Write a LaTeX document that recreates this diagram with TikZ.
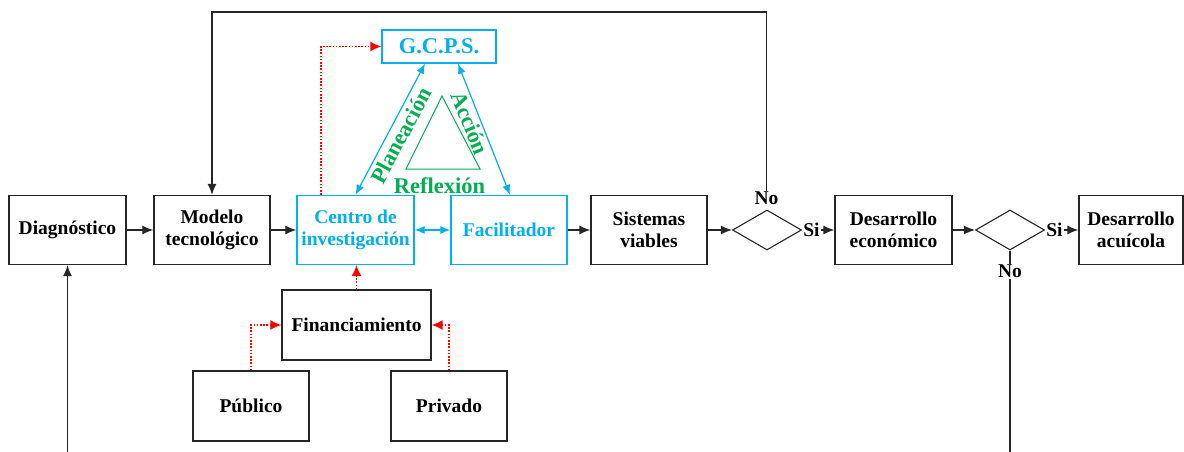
\documentclass[tikz,border=0pt]{standalone}
\usepackage{fontspec}
\setmainfont{Liberation Serif}
\usetikzlibrary{arrows.meta,shapes.geometric}
\definecolor{cyanb}{RGB}{0,176,240}
\definecolor{greenb}{RGB}{0,176,80}

\begin{document}
\begin{tikzpicture}[x=1pt,y=-1pt,
  box/.style={draw=black!85,line width=1.3pt,rectangle,inner sep=0pt,
    minimum width=117pt,minimum height=69pt,align=center,
    font=\bfseries\fontsize{19.5}{22}\selectfont},
  cbox/.style={box,draw=cyanb,text=cyanb},
  dec/.style={diamond,draw=black!85,line width=1.1pt,inner sep=0pt,
    minimum width=69pt,minimum height=40pt},
  lbl/.style={inner sep=1pt,font=\bfseries\fontsize{19.5}{22}\selectfont},
  plain/.style={line width=1.2pt,black!85},
  flow/.style={plain,-{Latex[length=11pt,width=9pt]}},
  fund/.style={red,line width=1.4pt,dash pattern=on 1.6pt off 1.6pt,
    -{Latex[length=11pt,width=10pt]}},
  link/.style={cyanb,line width=1.2pt,
    {Latex[length=10pt,width=8pt]}-{Latex[length=10pt,width=8pt]}},
  tri/.style={greenb,font=\bfseries\fontsize{22.5}{26}\selectfont,inner sep=0pt}
]
\path[fill=white,use as bounding box] (0,0) rectangle (1184,452);

% main chain
\node[box] (D) at (67.5,230) {Diagnóstico};
\node[box,minimum width=116pt] (M) at (212,230) {Modelo\\tecnológico};
\node[cbox] (C) at (355.5,230) {Centro de\\investigación};
\node[cbox,minimum width=116pt] (F) at (509,230) {Facilitador};
\node[box,minimum width=116pt] (S) at (649,230) {Sistemas\\viables};
\node[dec] (Q1) at (767,230) {};
\node[box] (E) at (893.5,230) {Desarrollo\\económico};
\node[dec] (Q2) at (1010,230) {};
\node[box,minimum width=104pt] (A) at (1131,230) {Desarrollo\\acuícola};

% funding boxes
\node[box,minimum width=149pt,minimum height=70pt] (Fi) at (356.5,325) {Financiamiento};
\node[box,minimum width=116pt,minimum height=70pt] (Pu) at (251,406) {Público};
\node[box,minimum width=116pt,minimum height=70pt] (Pr) at (449,406) {Privado};

% management group
\node[cbox,minimum width=114pt,minimum height=33pt,
  font=\bfseries\fontsize{22.5}{26}\selectfont] (G) at (439,46.5) {G.C.P.S.};

% decision labels
\node[lbl,anchor=west] (si1) at (Q1.east) {Si};
\node[lbl,anchor=west] (si2) at (Q2.east) {Si};
\node[lbl,anchor=south] (no1) at (766.5,206) {No};
\node[lbl,anchor=north] (no2) at (1010,264) {No};

\coordinate (top) at (0,12);
\coordinate (inD) at (67.5,452);
\coordinate (outQ) at (1010,452);

% black flow
\draw[flow] (D) -- (M);
\draw[flow] (M) -- (C);
\draw[flow] (F) -- (S);
\draw[flow] (S) -- (Q1);
\draw[flow] (si1) -- (E);
\draw[flow] (E) -- (Q2);
\draw[flow] (si2) -- (A);
\draw[flow] (no1.north) -- (no1.north |- top) -| (M.north);
\draw[flow] (inD) -- (D.south);
\draw[plain] (Q2.south) -- (no2.north);
\draw[plain] (no2.south) -- (outQ);

% blue links
\draw[link] (C) -- (F);
\draw[link] ([xshift=-14pt]G.south) -- (C.north);
\draw[link] ([xshift=19pt]G.south) -- ([xshift=1pt]F.north);

% red funding arrows
\draw[fund] ([xshift=-34.5pt]C.north) |- (G.west);
\draw[fund] (Fi.north) -- (Fi.north |- C.south);
\draw[fund] (Pu.north) |- (Fi.west);
\draw[fund] (Pr.north) |- (Fi.east);

% cycle triangle
\draw[greenb,line width=1pt] (442,96) -- (406,169) -- (480,169) -- cycle;
\node[tri,rotate=62] (pl) at (401,135.5) {Planeación};
\node[tri,rotate=-68] (ac) at (470,123) {Acción};
\node[tri,anchor=base] (re) at (439.5,193) {Reflexión};
\end{tikzpicture}
\end{document}
